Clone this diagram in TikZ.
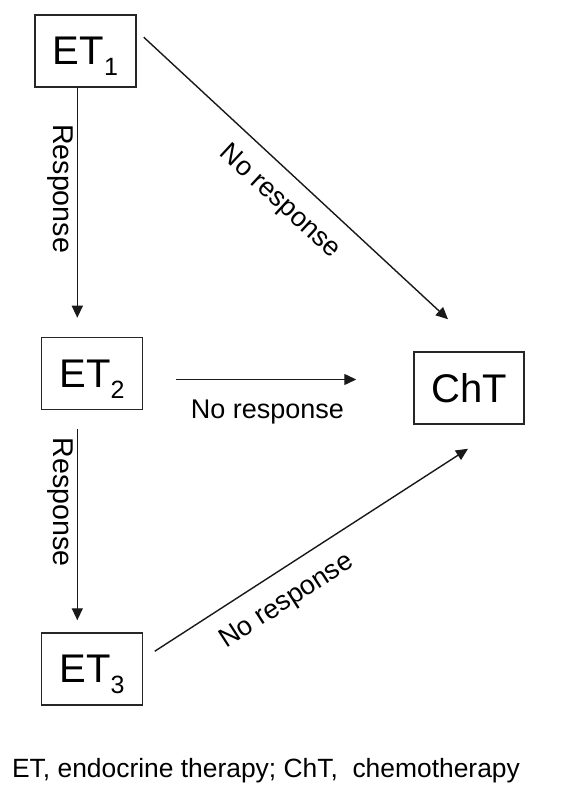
\documentclass[tikz,border=0pt]{standalone}
\usepackage{fontspec}
\setmainfont{Liberation Sans}
\usetikzlibrary{positioning, arrows.meta}

% lowered index that does not change the box height
\newcommand{\etsub}[1]{\raisebox{-5.5pt}[0pt][0pt]{\fontsize{12.5}{12.5}\selectfont #1}}

\begin{document}
\begin{tikzpicture}[x=0.5pt, y=-0.5pt]
      % Define styles for nodes
      \tikzset{
        boxnode/.style={rectangle, draw=black!85, line width=0.75pt, minimum width=50.5pt, minimum height=36pt, inner sep=2pt, font=\fontsize{20}{24}\selectfont},
        arrowline/.style={draw=black!90, line width=0.7pt, -{Triangle[length=6pt, width=5.5pt]}},
        annotation/.style={font=\fontsize{13.5}{16}\selectfont, inner xsep=0pt},
        sideannotation/.style={annotation, font=\fontsize{14.3}{16}\selectfont, rotate=-90, anchor=north, inner ysep=1.5pt}
      }
      \useasboundingbox (0,0) rectangle (565,785);

      % Create the therapy boxes
      \node[boxnode] (et1) at (85.5,51) {ET\etsub{1}};
      \node[boxnode, below=124.5pt of et1, xshift=3.25pt] (et2) {ET\etsub{2}};
      \node[boxnode, below=111pt of et2] (et3) {ET\etsub{3}};
      \node[boxnode, minimum width=55pt, right=135pt of et2, yshift=-7.25pt] (cht) {ChT};

      % Draw the response arrows
      \draw[arrowline, shorten >=9.5pt] ([xshift=-4.1pt]et1.south) -- ([xshift=-4.1pt]et1.south |- et2.north)
        node[sideannotation, pos=0.405] {Response};
      \draw[arrowline, shorten <=9.5pt, shorten >=6pt] ([xshift=-7.35pt]et2.south) -- ([xshift=-7.35pt]et2.south |- et3.north)
        node[sideannotation, pos=0.415] {Response};

      % Draw the no response arrows to ChT
      \draw[arrowline] ([xshift=3.5pt, yshift=-11.5pt]et1.north east) -- ([xshift=-10.5pt, yshift=16pt]cht.north)
        node[annotation, pos=0.51, sloped, anchor=north, inner ysep=8pt] {No response};
      \draw[arrowline, shorten <=16.5pt, shorten >=28.5pt] ([yshift=-3pt]et2.east) -- ([yshift=-3pt]et2.east -| cht.west)
        node[annotation, pos=0.46, anchor=north, inner ysep=9.7pt] {No response};
      \draw[arrowline] ([xshift=5.75pt, yshift=-9.5pt]et3.north east) -- ([xshift=-0.5pt, yshift=-12pt]cht.south)
        node[annotation, pos=0.37, sloped, anchor=north, inner ysep=8.7pt] {No response};

      % Add the caption below
      \node[annotation, font=\fontsize{13.2}{16}\selectfont] (caption) at (266,771) {ET, endocrine therapy; ChT,\ \ chemotherapy};
\end{tikzpicture}
\end{document}
